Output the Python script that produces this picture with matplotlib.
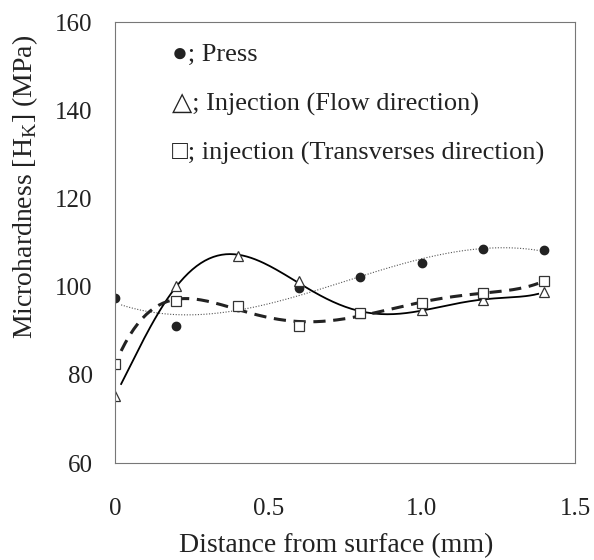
import numpy as np
import matplotlib.pyplot as plt

plt.rcParams['font.family'] = ['Liberation Serif', 'DejaVu Sans']

# depth below the surface (mm)
distance = [0.0, 0.2, 0.4, 0.6, 0.8, 1.0, 1.2, 1.4]
# Knoop microhardness (MPa)
press = [97.4, 91.1, 95.3, 99.7, 102.2, 105.3, 108.5, 108.3]
inj_flow = [75.2, 100.1, 107.0, 101.2, 94.0, 94.8, 97.0, 98.8]
inj_trans = [82.4, 96.8, 95.6, 91.1, 94.0, 96.3, 98.5, 101.3]

legend_lines = ['\u25cf; Press',
                '\u25b3; Injection (Flow direction)',
                '\u25a1; injection (Transverses direction)']


def trend(x, y, deg):
    # polynomial trend line over the measured range
    c = np.polyfit(x, y, deg)
    xs = np.linspace(0.02, 1.38, 200)
    return xs, np.polyval(c, xs)


fig = plt.figure(figsize=(5.94, 5.60), dpi=100)
ax = fig.add_axes([0.1936, 0.1732, 0.7744, 0.7875])

x = np.array(distance)
xs, ys = trend(x, np.array(press), 3)
ax.plot(xs, ys, color='#555555', lw=0.8, ls=(0, (1, 1.5)))
xs, ys = trend(x, np.array(inj_flow), 6)
ax.plot(xs, ys, color='black', lw=1.3)
xs, ys = trend(x, np.array(inj_trans), 5)
ax.plot(xs, ys, color='#222222', lw=2.2, ls=(0, (4, 2.5)))

ax.plot(distance, press, 'o', ms=6, color='#222222', mec='#222222')
ax.plot(distance, inj_flow, '^', ms=7, mfc='white', mec='#333333', mew=0.9)
ax.plot(distance, inj_trans, 's', ms=6.5, mfc='white', mec='#333333', mew=0.9)

for i, t in enumerate(legend_lines):
    ax.text(0.123, 0.925 - i * 0.111, t, transform=ax.transAxes,
            fontsize=19, va='center', ha='left', color='#222222')

ax.set_xlim(0, 1.5)
ax.set_ylim(60, 160)
ax.set_xticks([0, 0.5, 1.0, 1.5])
ax.set_xticklabels(['0', '0.5', '1.0', '1.5'])
ax.set_yticks([60, 80, 100, 120, 140, 160])
ax.tick_params(length=0, labelsize=18, colors='#222222')
ax.tick_params(axis='x', pad=25)
ax.tick_params(axis='y', pad=16)

for s in ax.spines.values():
    s.set_linestyle((0, (1, 1)))
    s.set_linewidth(0.8)
    s.set_color('#777777')

ax.set_xlabel('Distance from surface (mm)', fontsize=20, color='#222222')
ax.xaxis.set_label_coords(0.48, -0.159)
ax.set_ylabel('Microhardness [H$_\\mathregular{K}$] (MPa)', fontsize=20, color='#222222')
ax.yaxis.set_label_coords(-0.163, 0.627)

fig.savefig('out.png', dpi=100)
